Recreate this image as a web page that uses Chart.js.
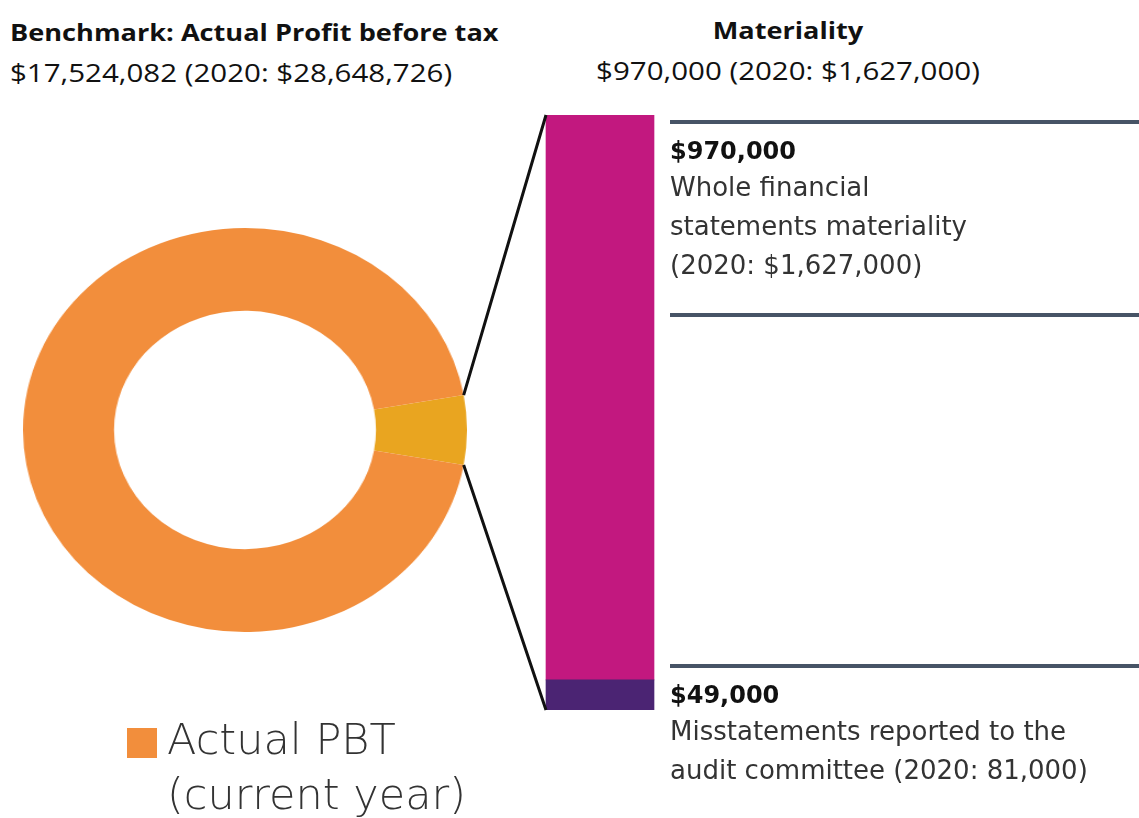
<!DOCTYPE html>
<html>
<head>
<meta charset="utf-8">
<script src="https://cdn.jsdelivr.net/npm/chart.js@4.4.1/dist/chart.umd.min.js"></script>
<style>
  html, body { margin: 0; padding: 0; background: #fff; }
  #page { position: relative; width: 1139px; height: 818px; overflow: hidden; }
  .abs { position: absolute; white-space: nowrap; }
  .head { font-family: "Open Sans", sans-serif; color: #111; line-height: 36px; transform: scaleX(1.18); }
  .head.left { transform-origin: left center; }
  .head.mid { transform-origin: center center; }
  .note { font-family: "DejaVu Sans", sans-serif; color: #333; font-size: 26px; line-height: 39px; }
  .note b { display: block; font-size: 24px; line-height: 34px; color: #111; }
  #pbtChart { position: absolute; left: 23px; top: 228px; }
  #barWrap { position: absolute; left: 400px; top: 100px; width: 739px; height: 620px; }
</style>
</head>
<body>
<div id="page">
  <!-- drawn 404 x 404, shown 444 wide: the picture is a bit wider than tall -->
  <canvas id="pbtChart" width="404" height="404" style="width:444px; height:404px;"></canvas>
  <div id="barWrap"><canvas id="materialityChart"></canvas></div>

  <div class="abs head left" style="left:10px; top:14px; font-size:23px; font-weight:700;">Benchmark: Actual Profit before tax</div>
  <div class="abs head left" style="left:10px; top:54px; font-size:25px;">$17,524,082 (2020: $28,648,726)</div>
  <div class="abs head mid" style="left:588px; width:400px; text-align:center; top:12px; font-size:23px; font-weight:700;">Materiality</div>
  <div class="abs head mid" style="left:588px; width:400px; text-align:center; top:52px; font-size:25px;">$970,000 (2020: $1,627,000)</div>

  <div class="abs note" style="left:670px; top:134px;"><b>$970,000</b>Whole financial<br>statements materiality<br>(2020: $1,627,000)</div>
  <div class="abs note" style="left:670px; top:678px;"><b>$49,000</b>Misstatements reported to the<br>audit committee (2020: 81,000)</div>

  <div class="abs" style="left:127px; top:728px; width:30px; height:30px; background:#f28e3c;"></div>
  <div class="abs" style="left:167px; top:712px; font-family:'DejaVu Sans', sans-serif; font-weight:200; font-size:43px; line-height:55px; color:#333;">Actual PBT<br>(current year)</div>
</div>

<script>
// Benchmark doughnut: materiality slice vs rest of actual PBT
const pbtLabels = ['Materiality', 'Actual PBT (current year)'];
const pbtValues = [970000, 16554082];
const pbtColors = ['#e9a520', '#f28e3c'];

// Materiality bar (stacked, bottom first)
const barLabels = ['Materiality'];
const misstatementValues = [49000];
const materialityRestValues = [921000];
const materialityMax = 970000;

// right-hand divider rules, read against the bar scale
const dividerValues = [958000, 644000, 72000];

const pbtShare = pbtValues[0] / (pbtValues[0] + pbtValues[1]);

const pbtCanvas = document.getElementById('pbtChart');
const barWrap = document.getElementById('barWrap');

const pbtChart = new Chart(pbtCanvas, {
  type: 'doughnut',
  data: {
    labels: pbtLabels,
    datasets: [{
      data: pbtValues,
      backgroundColor: pbtColors,
      borderWidth: 0,
      hoverOffset: 0,
      offset: 0
    }]
  },
  options: {
    responsive: false,
    animation: false,
    cutout: '59%',
    rotation: 90 - pbtShare * 180,
    layout: { padding: 0 },
    plugins: {
      legend: { display: false },
      tooltip: { enabled: false }
    }
  }
});

// draws the divider rules and the two lines joining the slice to the bar
const connectorPlugin = {
  id: 'connector',
  afterDatasetsDraw(chart) {
    const ctx = chart.ctx;
    const yScale = chart.scales.y;
    const topBar = chart.getDatasetMeta(1).data[0];
    const baseBar = chart.getDatasetMeta(0).data[0];
    const barLeft = topBar.x - topBar.width / 2;
    const barRight = topBar.x + topBar.width / 2;

    ctx.save();
    ctx.strokeStyle = '#475466';
    ctx.lineWidth = 4;
    dividerValues.forEach(v => {
      const py = Math.round(yScale.getPixelForValue(v));
      ctx.beginPath();
      ctx.moveTo(barRight + 16, py);
      ctx.lineTo(chart.width, py);
      ctx.stroke();
    });

    const arc = pbtChart.getDatasetMeta(0).data[0];
    if (arc) {
      const sx = pbtCanvas.offsetWidth / pbtChart.width;
      const sy = pbtCanvas.offsetHeight / pbtChart.height;
      const toBar = (a) => ({
        x: pbtCanvas.offsetLeft + (arc.x + Math.cos(a) * arc.outerRadius) * sx - barWrap.offsetLeft,
        y: pbtCanvas.offsetTop + (arc.y + Math.sin(a) * arc.outerRadius) * sy - barWrap.offsetTop
      });
      const p1 = toBar(arc.startAngle);
      const p2 = toBar(arc.endAngle);
      ctx.strokeStyle = '#111';
      ctx.lineWidth = 3;
      ctx.beginPath();
      ctx.moveTo(p1.x, p1.y);
      ctx.lineTo(barLeft, topBar.y);
      ctx.moveTo(p2.x, p2.y);
      ctx.lineTo(barLeft, baseBar.base);
      ctx.stroke();
    }
    ctx.restore();
  }
};

new Chart(document.getElementById('materialityChart'), {
  type: 'bar',
  data: {
    labels: barLabels,
    datasets: [
      { label: 'Misstatements reported', data: misstatementValues, backgroundColor: '#4b2473', barThickness: 108 },
      { label: 'Whole financial statements materiality', data: materialityRestValues, backgroundColor: '#c2187f', barThickness: 108 }
    ]
  },
  options: {
    responsive: true,
    maintainAspectRatio: false,
    animation: false,
    layout: { padding: { left: 0, right: 339, top: 15, bottom: 10 } },
    scales: {
      x: { stacked: true, display: false },
      y: { stacked: true, display: false, min: 0, max: materialityMax }
    },
    plugins: {
      legend: { display: false },
      tooltip: { enabled: false }
    }
  },
  plugins: [connectorPlugin]
});
</script>
</body>
</html>
